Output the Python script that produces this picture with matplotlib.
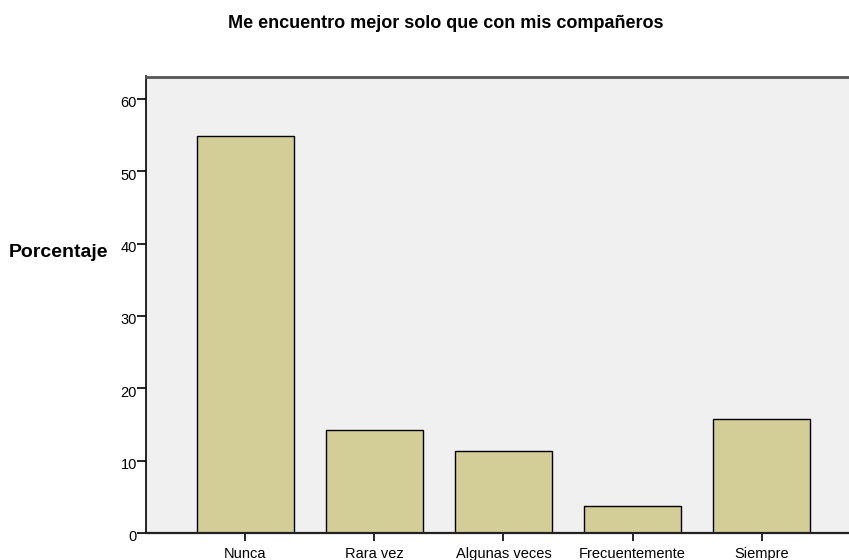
import numpy as np
import matplotlib
matplotlib.use("Agg")
import matplotlib.pyplot as plt
from matplotlib.transforms import ScaledTranslation

plt.rcParams['font.family'] = ['Liberation Sans', 'DejaVu Sans']

# datos
categorias = ['Nunca', 'Rara vez', 'Algunas veces', 'Frecuentemente', 'Siempre']
porcentajes = [54.9, 14.3, 11.3, 3.8, 15.8]
ticks_y = [0, 10, 20, 30, 40, 50, 60]

fig = plt.figure(figsize=(8.49, 5.6), dpi=100)
ax = fig.add_axes([146/849, 1-533/560, 1-146/849, (533-76.5)/560])
ax.set_facecolor('#f0f0f0')

x = np.arange(len(categorias))
ax.bar(x, porcentajes, width=0.75, color='#d3ce97', edgecolor='black', linewidth=1)

ax.set_xlim(-0.771, 4.678)
ax.set_ylim(0, 63.1)
ax.set_xticks(x)
ax.set_xticklabels(categorias, fontsize=10.5)
ax.set_yticks(ticks_y)
ax.set_yticklabels([str(t) for t in ticks_y], fontsize=10.5)
ax.tick_params(axis='y', direction='out', length=6.5, width=1.2, pad=0)
ax.tick_params(axis='x', direction='out', length=6, width=1.2, pad=4)

# etiquetas del eje y un poco mas abajo, como en el original
desplaza = ScaledTranslation(0, -2/72, fig.dpi_scale_trans)
for lab in ax.get_yticklabels():
    lab.set_transform(lab.get_transform() + desplaza)

ax.spines['right'].set_visible(False)
ax.spines['top'].set_color('#555555')
ax.spines['top'].set_linewidth(2)
ax.spines['left'].set_linewidth(1.2)
ax.spines['bottom'].set_linewidth(1.6)
ax.spines['bottom'].set_color('#222222')

fig.text(446/849, 1-28.3/560, 'Me encuentro mejor solo que con mis compañeros',
         ha='center', va='baseline', fontsize=13, fontweight='bold')
fig.text(9/849, 1-257/560, 'Porcentaje', ha='left', va='baseline',
         fontsize=14, fontweight='bold')

fig.savefig('out.png', dpi=100)
